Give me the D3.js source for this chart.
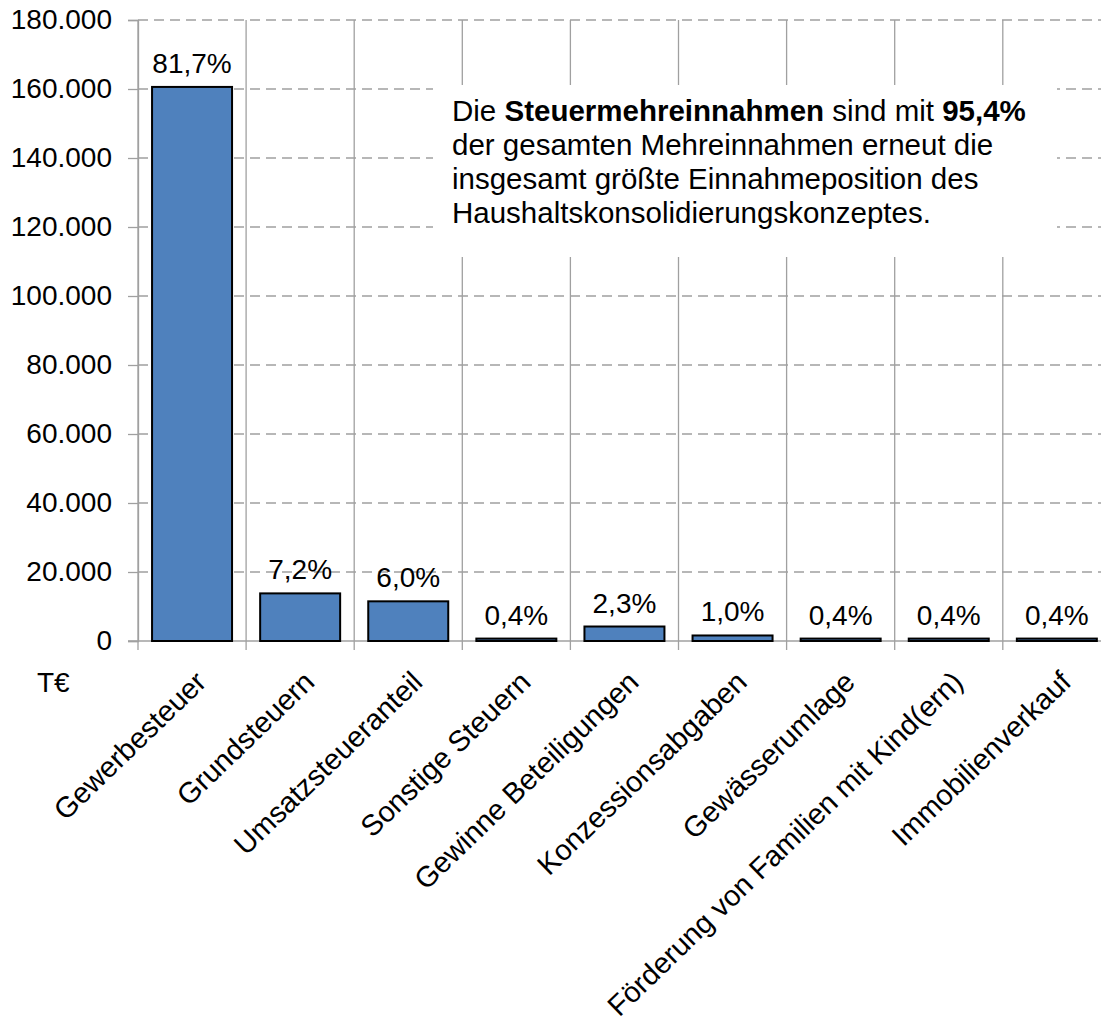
<!DOCTYPE html>
<html>
<meta charset="utf-8">
<head>
    <script src="https://d3js.org/d3.v7.min.js"></script>
</head>

<style>
  body { margin: 0; background: #fff; }
  svg text {
  font-family: "Liberation Sans", Arial, sans-serif;
  font-size: 28px;
  fill: #000;
  }
  svg .cat-label {
  font-size: 29px;
  }
  svg .note {
  font-size: 29.5px;
  }
  svg .grid-h {
  stroke: #a0a0a0;
  stroke-width: 1.3;
  stroke-dasharray: 10,6;
  }
  svg .grid-v {
  stroke: #a0a0a0;
  stroke-width: 1.3;
  }
  svg .bar {
  fill: #4f81bd;
  stroke: #000;
  stroke-width: 2;
  }
</style>

<body>
    <script>

        var categories = ["Gewerbesteuer", "Grundsteuern", "Umsatzsteueranteil", "Sonstige Steuern",
            "Gewinne Beteiligungen", "Konzessionsabgaben", "Gewässerumlage",
            "Förderung von Familien mit Kind(ern)", "Immobilienverkauf"];
        var values = [160600, 13800, 11500, 700, 4200, 1600, 700, 700, 700];
        var shares = ["81,7%", "7,2%", "6,0%", "0,4%", "2,3%", "1,0%", "0,4%", "0,4%", "0,4%"];
        var yTicks = [0, 20000, 40000, 60000, 80000, 100000, 120000, 140000, 160000, 180000];
        var unitLabel = "T€";
        var noteLines = [
            [["Die ", false], ["Steuermehreinnahmen", true], [" sind mit ", false], ["95,4%", true]],
            [["der gesamten Mehreinnahmen erneut die", false]],
            [["insgesamt größte Einnahmeposition des", false]],
            [["Haushaltskonsolidierungskonzeptes.", false]]
        ];

        var width = 1101,
            height = 1029;

        var svg = d3.select("body").append("svg")
            .attr("width", width)
            .attr("height", height);

        var x = d3.scaleBand()
            .domain(categories)
            .range([138, 138 + 9 * 108.1])
            .paddingInner(0.26)
            .paddingOuter(0.13);

        var y = d3.scaleLinear()
            .domain([0, 180000])
            .range([641, 20]);

        var gap = x.step() * 0.13;
        var fmt = function(d) { return d3.format(",")(d).replace(/,/g, "."); };

        // horizontal dashed gridlines
        svg.append("g").selectAll("line")
            .data(yTicks.slice(1))
            .enter().append("line")
            .attr("class", "grid-h")
            .attr("x1", 138).attr("x2", width)
            .attr("y1", function(d) { return y(d); })
            .attr("y2", function(d) { return y(d); });

        // vertical gridlines on category boundaries
        svg.append("g").selectAll("line")
            .data(categories)
            .enter().append("line")
            .attr("class", "grid-v")
            .attr("x1", function(d) { return x(d) - gap; })
            .attr("x2", function(d) { return x(d) - gap; })
            .attr("y1", y(180000)).attr("y2", y(0) + 9);

        // y axis
        var yAxis = svg.append("g")
            .attr("transform", "translate(138,0)")
            .call(d3.axisLeft(y).tickValues(yTicks).tickSize(10).tickPadding(16).tickFormat(fmt));
        yAxis.select(".domain").attr("stroke", "#a0a0a0").attr("stroke-width", 1.3);
        yAxis.selectAll(".tick line").attr("stroke", "#a0a0a0").attr("stroke-width", 1.3);
        yAxis.selectAll(".tick text").attr("fill", "#000");
        yAxis.attr("font-size", null).attr("font-family", null);

        // x base line
        svg.append("line")
            .attr("class", "grid-v")
            .attr("x1", 128).attr("x2", width)
            .attr("y1", y(0)).attr("y2", y(0));

        // white note box
        svg.append("rect")
            .attr("x", 433).attr("y", 85)
            .attr("width", 624).attr("height", 172)
            .attr("fill", "#fff");

        // bars
        svg.append("g").selectAll("rect")
            .data(values)
            .enter().append("rect")
            .attr("class", "bar")
            .attr("x", function(d, i) { return x(categories[i]); })
            .attr("width", x.bandwidth())
            .attr("y", function(d) { return y(d); })
            .attr("height", function(d) { return y(0) - y(d); });

        // value labels
        svg.append("g").selectAll("text")
            .data(values)
            .enter().append("text")
            .attr("x", function(d, i) { return x(categories[i]) + x.bandwidth() / 2; })
            .attr("y", function(d) { return y(d) - 14; })
            .attr("text-anchor", "middle")
            .text(function(d, i) { return shares[i]; });

        // category labels
        svg.append("g").selectAll("text")
            .data(categories)
            .enter().append("text")
            .attr("class", "cat-label")
            .attr("transform", function(d) {
                return "translate(" + (x(d) + x.bandwidth() / 2 + 16) + ",684) rotate(-44)";
            })
            .attr("text-anchor", "end")
            .text(function(d) { return d; });

        svg.append("text")
            .attr("x", 37).attr("y", 692)
            .text(unitLabel);

        // note
        var note = svg.append("text")
            .attr("class", "note")
            .attr("x", 452).attr("y", 121);
        noteLines.forEach(function(line, li) {
            line.forEach(function(part, pi) {
                var t = note.append("tspan")
                    .attr("font-weight", part[1] ? "bold" : null)
                    .text(part[0]);
                if (pi === 0) t.attr("x", 452).attr("dy", li === 0 ? 0 : 34);
            });
        });
    </script>
</body>
</html>
